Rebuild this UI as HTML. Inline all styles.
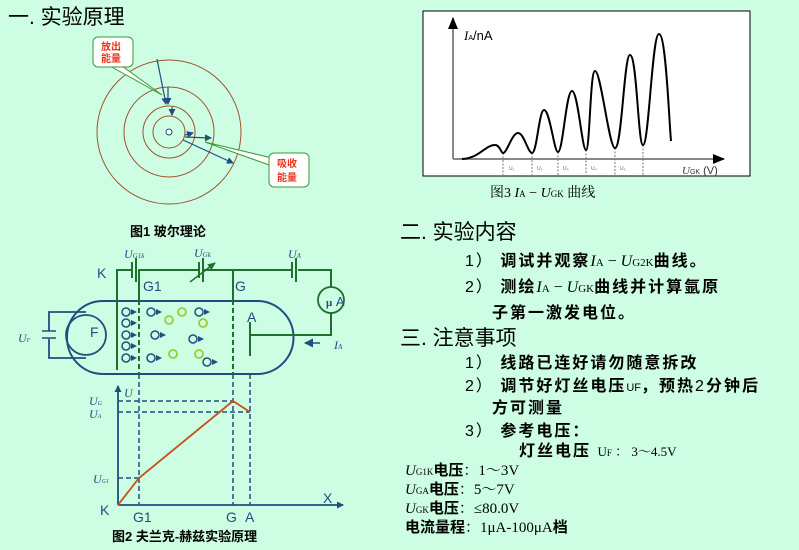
<!DOCTYPE html>
<html><head><meta charset="utf-8"><style>
html,body{margin:0;padding:0;background:#cdfde2;}
svg{display:block;font-family:"Liberation Sans","Noto Sans CJK SC",sans-serif;}
.s{font-family:"Liberation Serif","Noto Serif CJK SC",serif;}
.b{font-weight:bold;}
</style></head><body>
<svg width="799" height="550" viewBox="0 0 799 550" xmlns="http://www.w3.org/2000/svg">
<defs>
<marker id="ab" markerUnits="userSpaceOnUse" markerWidth="7" markerHeight="7" refX="6" refY="3.5" orient="auto"><path d="M0,0 L7,3.5 L0,7z" fill="#1f4f7f"/></marker>
<marker id="ar" markerUnits="userSpaceOnUse" markerWidth="9" markerHeight="9" refX="8" refY="4.5" orient="auto"><path d="M0,0 L9,4.5 L0,9z" fill="#1f4f7f"/></marker>
<marker id="ak" markerUnits="userSpaceOnUse" markerWidth="12" markerHeight="10" refX="11" refY="5" orient="auto"><path d="M0,0 L12,5 L0,10z" fill="#000"/></marker>
<marker id="ag" markerUnits="userSpaceOnUse" markerWidth="8" markerHeight="7" refX="7" refY="3.5" orient="auto"><path d="M0,0 L8,3.5 L0,7z" fill="#1f6f2f"/></marker>
</defs>
<rect width="799" height="550" fill="#cdfde2"/>
<text x="8" y="24" font-size="21">一. 实验原理</text>

<!-- Fig1 -->
<g fill="none" stroke="#a0522d" stroke-width="1">
<circle cx="169" cy="132" r="16"/><circle cx="169" cy="132" r="26"/><circle cx="169" cy="132" r="45"/><circle cx="169" cy="132" r="72"/>
</g>
<circle cx="169" cy="132" r="3" fill="#fff" stroke="#1f4f7f"/>
<g stroke="#1f4f7f" stroke-width="1.2" marker-end="url(#ab)">
<line x1="157" y1="59" x2="166" y2="104"/><line x1="168" y1="87" x2="168" y2="104"/><line x1="172" y1="107" x2="172" y2="115"/>
<line x1="185" y1="135" x2="193" y2="133"/><line x1="185" y1="137" x2="211" y2="138"/><line x1="183" y1="140" x2="233" y2="163"/>
</g>
<path d="M110,66 L162,95 L122,66z" fill="#fff" stroke="#3a9a3a"/>
<rect x="93" y="37" width="40" height="30" rx="5" fill="#fff" stroke="#3a9a3a"/>
<path d="M272,158 L205,142 L272,166z" fill="#fff" stroke="#3a9a3a"/>
<rect x="269" y="153" width="40" height="34" rx="5" fill="#fff" stroke="#3a9a3a"/>
<g fill="#e8341c" font-size="10" class="b"><text x="101" y="50">放出</text><text x="101" y="62">能量</text>
<text x="277" y="167">吸收</text><text x="277" y="181">能量</text></g>
<text x="130" y="236" font-size="13" class="b">图1 玻尔理论</text>

<!-- Fig2 circuit -->
<path d="M67,337 A36,36 0 0 1 103,301 L257,301 A36,36 0 0 1 257,374 L103,374 A36,36 0 0 1 67,337z" fill="none" stroke="#1f4f7f" stroke-width="2"/>
<g fill="none" stroke="#1f6f2f" stroke-width="2">
<path d="M117,370 V270 H132 M138,270 H198 M203,270 H292 M298,270 H331 V287 M331,313 V335 H250"/>
<line x1="132" y1="262" x2="132" y2="278"/><line x1="136" y1="258" x2="136" y2="282"/>
<line x1="199" y1="262" x2="199" y2="278"/><line x1="203" y1="258" x2="203" y2="282"/>
<line x1="292" y1="262" x2="292" y2="278"/><line x1="296" y1="258" x2="296" y2="282"/>
<line x1="139" y1="270" x2="139" y2="300"/>
<line x1="233" y1="270" x2="233" y2="300"/>
<line x1="250" y1="322" x2="250" y2="356"/>
<circle cx="331" cy="300" r="13" stroke-width="1.8"/>
</g>
<line x1="190" y1="282" x2="215" y2="263" stroke="#1f6f2f" stroke-width="1.5" marker-end="url(#ag)"/>
<line x1="139" y1="300" x2="139" y2="374" stroke="#1f6f2f" stroke-width="2" stroke-dasharray="5,3"/>
<line x1="233" y1="300" x2="233" y2="374" stroke="#1f6f2f" stroke-width="2" stroke-dasharray="5,3"/>
<g fill="none" stroke="#1f4f7f" stroke-width="1.8">
<path d="M86,312 H49 V358 H86"/>
<circle cx="86" cy="335" r="20"/>
</g>
<rect x="42" y="331" width="14" height="8" fill="#cdfde2"/>
<line x1="42" y1="331" x2="56" y2="331" stroke="#1f4f7f" stroke-width="1.5"/><line x1="42" y1="338" x2="56" y2="338" stroke="#1f4f7f" stroke-width="1.5"/>
<line x1="320" y1="343" x2="305" y2="343" stroke="#1f4f7f" stroke-width="1.5" marker-end="url(#ar)"/>
<g fill="none" stroke="#1f4f7f" stroke-width="1.5">
<circle cx="126" cy="312" r="4"/><circle cx="126" cy="323" r="4"/><circle cx="126" cy="335" r="4"/><circle cx="126" cy="346" r="4"/><circle cx="126" cy="358" r="4"/>
<circle cx="151" cy="312" r="4"/><circle cx="155" cy="335" r="4"/><circle cx="151" cy="358" r="4"/><circle cx="199" cy="312" r="4"/><circle cx="193" cy="339" r="4"/><circle cx="207" cy="362" r="4"/>
</g>
<g fill="#1f4f7f">
<path d="M131,309 l6,3 -6,3z"/><path d="M131,320 l6,3 -6,3z"/><path d="M131,332 l6,3 -6,3z"/><path d="M131,343 l6,3 -6,3z"/><path d="M131,355 l6,3 -6,3z"/>
<path d="M156,309 l6,3 -6,3z"/><path d="M160,332 l6,3 -6,3z"/><path d="M156,355 l6,3 -6,3z"/><path d="M204,309 l6,3 -6,3z"/><path d="M198,336 l6,3 -6,3z"/><path d="M212,359 l6,3 -6,3z"/>
</g>
<g fill="none" stroke="#9acd32" stroke-width="1.8">
<circle cx="169" cy="320" r="4"/><circle cx="182" cy="312" r="4"/><circle cx="203" cy="323" r="4"/><circle cx="173" cy="354" r="4"/><circle cx="199" cy="354" r="4"/>
</g>
<g fill="#1f4f7f" font-size="14">
<text x="97" y="278">K</text><text x="143" y="291">G1</text><text x="235" y="291">G</text><text x="247" y="322">A</text><text x="90" y="337">F</text>
<text x="326" y="306" font-size="13"><tspan class="b s" font-size="11">μ</tspan> A</text>
<text x="124" y="258" class="s" font-style="italic" font-size="12">U<tspan font-size="7">G1k</tspan></text>
<text x="194" y="257" class="s" font-style="italic" font-size="12">U<tspan font-size="7">Gk</tspan></text>
<text x="288" y="258" class="s" font-style="italic" font-size="12">U<tspan font-size="7">A</tspan></text>
<text x="18" y="342" class="s" font-style="italic" font-size="12">U<tspan font-size="6">F</tspan></text>
<text x="334" y="349" class="s" font-style="italic" font-size="12">I<tspan font-size="7">A</tspan></text>
</g>

<!-- Fig2 graph -->
<g stroke="#1f4f7f" stroke-width="1.5" fill="none" stroke-dasharray="5,3">
<line x1="139" y1="374" x2="139" y2="505"/><line x1="233" y1="374" x2="233" y2="505"/><line x1="250" y1="374" x2="250" y2="505"/>
<line x1="118" y1="401" x2="233" y2="401"/><line x1="118" y1="412" x2="250" y2="412"/><line x1="118" y1="478" x2="139" y2="478"/>
</g>
<line x1="118" y1="505" x2="118" y2="386" stroke="#1f4f7f" stroke-width="1.8" marker-end="url(#ab)"/>
<line x1="118" y1="505" x2="343" y2="505" stroke="#1f4f7f" stroke-width="1.8" marker-end="url(#ab)"/>
<polyline points="118,505 139,478 233,401 250,412" fill="none" stroke="#c8501c" stroke-width="1.8"/>
<g fill="#1f4f7f" font-size="14">
<text x="100" y="515">K</text><text x="133" y="522">G1</text><text x="226" y="522">G</text><text x="245" y="522">A</text><text x="323" y="503">X</text>
<g class="s" font-style="italic" font-size="12"><text x="124" y="397">U</text><text x="89" y="405">U<tspan font-size="6">G</tspan></text><text x="89" y="418">U<tspan font-size="6">A</tspan></text><text x="93" y="483">U<tspan font-size="6">G1</tspan></text></g>
</g>
<text x="112" y="541" font-size="13" class="b">图2 夫兰克-赫兹实验原理</text>

<!-- Fig3 -->
<rect x="423" y="11" width="327" height="165" fill="#fff" stroke="#000"/>
<line x1="453" y1="159" x2="453" y2="18" stroke="#888" stroke-width="2" marker-end="url(#ak)"/>
<line x1="453" y1="159" x2="724" y2="159" stroke="#888" stroke-width="2" marker-end="url(#ak)"/>
<g stroke="#777" stroke-width="1" stroke-dasharray="2,1.5">
<line x1="503" y1="153" x2="503" y2="175"/><line x1="532" y1="153" x2="532" y2="175"/><line x1="558" y1="152" x2="558" y2="175"/><line x1="586" y1="150" x2="586" y2="175"/><line x1="615" y1="148" x2="615" y2="175"/><line x1="643" y1="145" x2="643" y2="175"/>
</g>
<g font-size="5" fill="#666"><text x="509" y="170">U₁</text><text x="537" y="170">U₂</text><text x="563" y="170">U₃</text><text x="591" y="170">U₄</text><text x="620" y="170">U₅</text></g>
<path d="M462,159 C480,158 485,145 495,145 C500,145 501,153 503,153 C507,153 512,133 518,133 C524,133 528,153 532,153 C537,153 539,110 544,110 C550,110 554,152 558,152 C563,152 566,91 572,91 C578,91 582,150 586,150 C590,150 590,71 595,71 C601,71 609,148 615,148 C622,148 624,55 630,55 C637,55 638,145 643,145 C649,145 652,34 659,34 C666,34 669,120 671,141" fill="none" stroke="#000" stroke-width="2"/>
<text x="464" y="40" font-size="13" fill="#000"><tspan class="s" font-style="italic">I</tspan><tspan font-size="7">A</tspan>/nA</text>
<text x="682" y="174" font-size="11" fill="#333"><tspan class="s" font-style="italic">U</tspan><tspan font-size="7">GK</tspan> (V)</text>
<text x="490" y="197" font-size="14" class="s">图3 <tspan font-style="italic">I</tspan><tspan font-size="9">A</tspan> − <tspan font-style="italic">U</tspan><tspan font-size="9">GK</tspan> 曲线</text>

<!-- Right text -->
<text x="400" y="239" font-size="21">二. 实验内容</text>
<g font-size="16" class="b" letter-spacing="2">
<text x="465" y="266"><tspan font-weight="normal">1）</tspan> 调试并观察<tspan class="s" font-weight="normal" font-style="italic" letter-spacing="0">I</tspan><tspan class="s" font-weight="normal" font-size="11" letter-spacing="0">A</tspan><tspan class="s" font-weight="normal" letter-spacing="0"> − </tspan><tspan class="s" font-weight="normal" font-style="italic" letter-spacing="0">U</tspan><tspan class="s" font-weight="normal" font-size="11" letter-spacing="0">G2K</tspan>曲线。</text>
<text x="465" y="292"><tspan font-weight="normal">2）</tspan> 测绘<tspan class="s" font-weight="normal" font-style="italic" letter-spacing="0">I</tspan><tspan class="s" font-weight="normal" font-size="11" letter-spacing="0">A</tspan><tspan class="s" font-weight="normal" letter-spacing="0"> − </tspan><tspan class="s" font-weight="normal" font-style="italic" letter-spacing="0">U</tspan><tspan class="s" font-weight="normal" font-size="11" letter-spacing="0">GK</tspan>曲线并计算氩原</text>
<text x="492" y="318">子第一激发电位。</text>
</g>
<text x="400" y="345" font-size="21">三. 注意事项</text>
<g font-size="16" class="b" letter-spacing="2">
<text x="465" y="368"><tspan font-weight="normal">1）</tspan> 线路已连好请勿随意拆改</text>
<text x="465" y="391"><tspan font-weight="normal">2）</tspan> 调节好灯丝电压<tspan font-weight="normal" font-size="11" letter-spacing="0">UF</tspan>，预热<tspan font-weight="normal">2</tspan>分钟后</text>
<text x="492" y="413">方可测量</text>
<text x="465" y="436"><tspan font-weight="normal">3）</tspan> 参考电压：</text>
<text x="519" y="456">灯丝电压 <tspan class="s" font-weight="normal" font-size="13" letter-spacing="0">U<tspan font-size="9">F</tspan> ： 3～4.5V</tspan></text>
</g>
<g font-size="15" class="b">
<text x="405" y="475"><tspan class="s" font-weight="normal" font-style="italic">U</tspan><tspan class="s" font-weight="normal" font-size="9">G1K</tspan>电压<tspan class="s" font-weight="normal">：1～3V</tspan></text>
<text x="405" y="494"><tspan class="s" font-weight="normal" font-style="italic">U</tspan><tspan class="s" font-weight="normal" font-size="9">GA</tspan>电压<tspan class="s" font-weight="normal">：5～7V</tspan></text>
<text x="405" y="513"><tspan class="s" font-weight="normal" font-style="italic">U</tspan><tspan class="s" font-weight="normal" font-size="9">GK</tspan>电压<tspan class="s" font-weight="normal">：≤80.0V</tspan></text>
<text x="405" y="532">电流量程<tspan class="s" font-weight="normal">：1μA-100μA</tspan>档</text>
</g>
</svg>
</body></html>
